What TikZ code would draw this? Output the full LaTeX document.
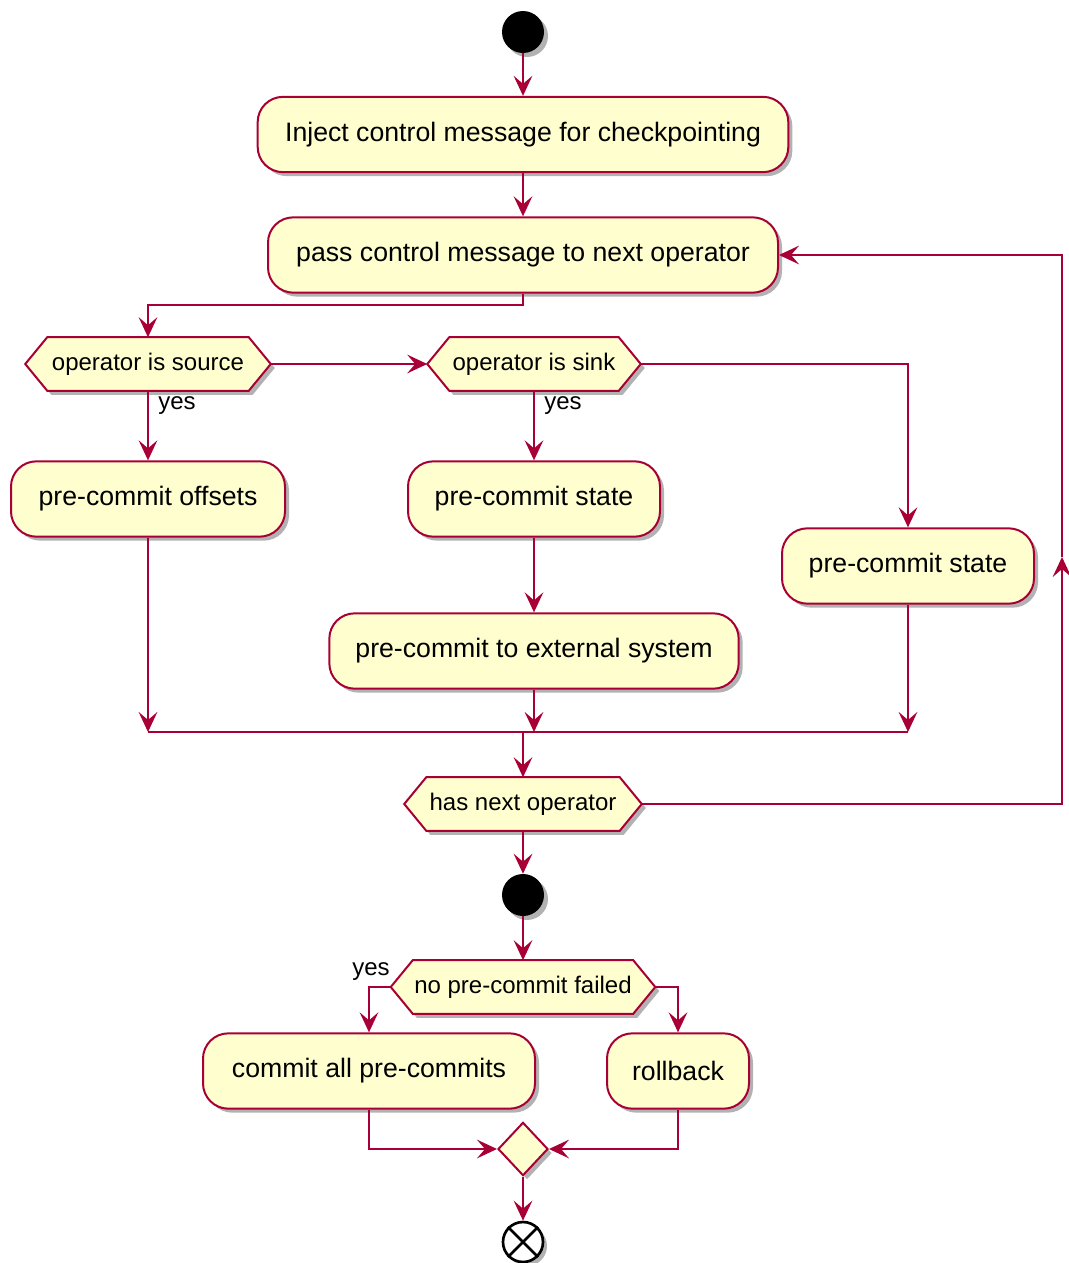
\documentclass[tikz,border=0pt]{standalone}
\usepackage{fontspec}
\setmainfont{Liberation Sans}
\usetikzlibrary{arrows.meta,shapes.geometric,shadows}
\definecolor{pfill}{HTML}{FEFECE}
\definecolor{pline}{HTML}{A80036}
\pgfdeclarelayer{bg}
\pgfsetlayers{bg,main}
\newcommand\hexdraw[1]{%
  \begin{pgfonlayer}{bg}
  \draw[hexline] (#1.west) -- ([xshift=16.5pt]#1.north west) -- ([xshift=-16.5pt]#1.north east) -- (#1.east) -- ([xshift=-16.5pt]#1.south east) -- ([xshift=16.5pt]#1.south west) -- cycle;
  \end{pgfonlayer}}
\begin{document}
\begin{tikzpicture}[x=0.75pt,y=-0.75pt,
  shad/.style={drop shadow={shadow xshift=3pt,shadow yshift=-3pt,opacity=0.3,fill=black}},
  act/.style={draw=pline,fill=pfill,line width=1.5pt,rounded corners=19pt,minimum height=56.5pt,inner sep=0pt,font=\fontsize{20}{24}\selectfont,shad},
  hexbox/.style={minimum height=39.75pt,inner sep=0pt,font=\fontsize{18}{22}\selectfont},
  hexline/.style={draw=pline,fill=pfill,line width=1.5pt,shad},
  arr/.style={draw=pline,line width=1.6pt,-{Stealth[length=15pt,width=14pt,inset=6pt]}},
  ln/.style={draw=pline,line width=1.6pt},
  lbl/.style={font=\fontsize{18}{22}\selectfont,inner sep=0pt},
  dot/.style={circle,fill=black,minimum size=31.5pt,inner sep=0pt,shad}]
\useasboundingbox (0,0) rectangle (1068,1263);

\node[dot] (start) at (523,32) {};
\node[act,minimum width=398pt] (inject) at (523,134.5) {Inject control message for checkpointing};
\node[act,minimum width=382.5pt] (pass) at (523,255) {pass control message to next operator};

\node[hexbox,minimum width=183.75pt] (src) at (148,364) {operator is source};
\hexdraw{src}
\node[hexbox,minimum width=159.75pt] (sink) at (534,364) {operator is sink};
\hexdraw{sink}

\node[act,minimum width=205.5pt] (offs) at (148,499) {pre-commit offsets};
\node[act,minimum width=189pt] (st1) at (534,499) {pre-commit state};
\node[act,minimum width=307pt] (ext) at (534,651) {pre-commit to external system};
\node[act,minimum width=189pt] (st2) at (908,566) {pre-commit state};

\coordinate (j1) at (148,732);
\coordinate (j2) at (908,732);
\coordinate (j3) at (534,732);
\coordinate (jm) at (523,732);

\node[hexbox,minimum width=177.75pt] (hasnext) at (523,804) {has next operator};
\hexdraw{hasnext}
\coordinate (loopmid) at (1062,557);

\node[dot] (mid) at (523,895) {};
\node[hexbox,minimum width=198pt] (nofail) at (523,987) {no pre-commit failed};
\hexdraw{nofail}

\node[act,minimum width=249pt] (commit) at (369,1071) {commit all pre-commits};
\node[act,minimum width=106.5pt] (rollback) at (678,1071) {rollback};
\node[diamond,draw=pline,fill=pfill,line width=1.5pt,minimum width=37.5pt,minimum height=40pt,inner sep=0pt,shad] (merge) at (523,1149) {};
\node[circle,draw=black,fill=white,line width=2pt,minimum size=30pt,inner sep=0pt,shad] (end) at (523,1242) {};
\draw[line width=2pt] (end.45) -- (end.225) (end.135) -- (end.315);

% connectors
\draw[arr] (start) -- (inject);
\draw[arr] (inject) -- (pass);
\draw[arr] (pass.south) -- ++(0,11) -| (src.north);
\draw[arr] (src.east) -- (sink.west);
\draw[arr] (sink.east) -| (st2.north);
\draw[arr] (src.south) -- (offs.north);
\draw[arr] (sink.south) -- (st1.north);
\node[lbl,anchor=west] (yes1) at (158,406) {yes};
\node[lbl,anchor=west] (yes2) at (544,406) {yes};
\draw[arr] (st1) -- (ext);
\draw[arr] (offs.south) -- (j1);
\draw[arr] (ext.south) -- (j3);
\draw[arr] (st2.south) -- (j2);
\draw[ln] (j1) -- (j2);
\draw[arr] (jm) -- (hasnext.north);
\draw[arr] (hasnext.east) -| (loopmid);
\draw[arr] (loopmid) |- (pass.east);
\draw[arr] (hasnext.south) -- (mid);
\draw[arr] (mid) -- (nofail.north);
\draw[arr] (nofail.west) -| (commit.north);
\draw[arr] (nofail.east) -| (rollback.north);
\node[lbl] (yes3) at (371,972) {yes};
\draw[arr] (commit.south) |- (merge.west);
\draw[arr] (rollback.south) |- (merge.east);
\draw[arr] (merge.south) -- (end);
\end{tikzpicture}
\end{document}
